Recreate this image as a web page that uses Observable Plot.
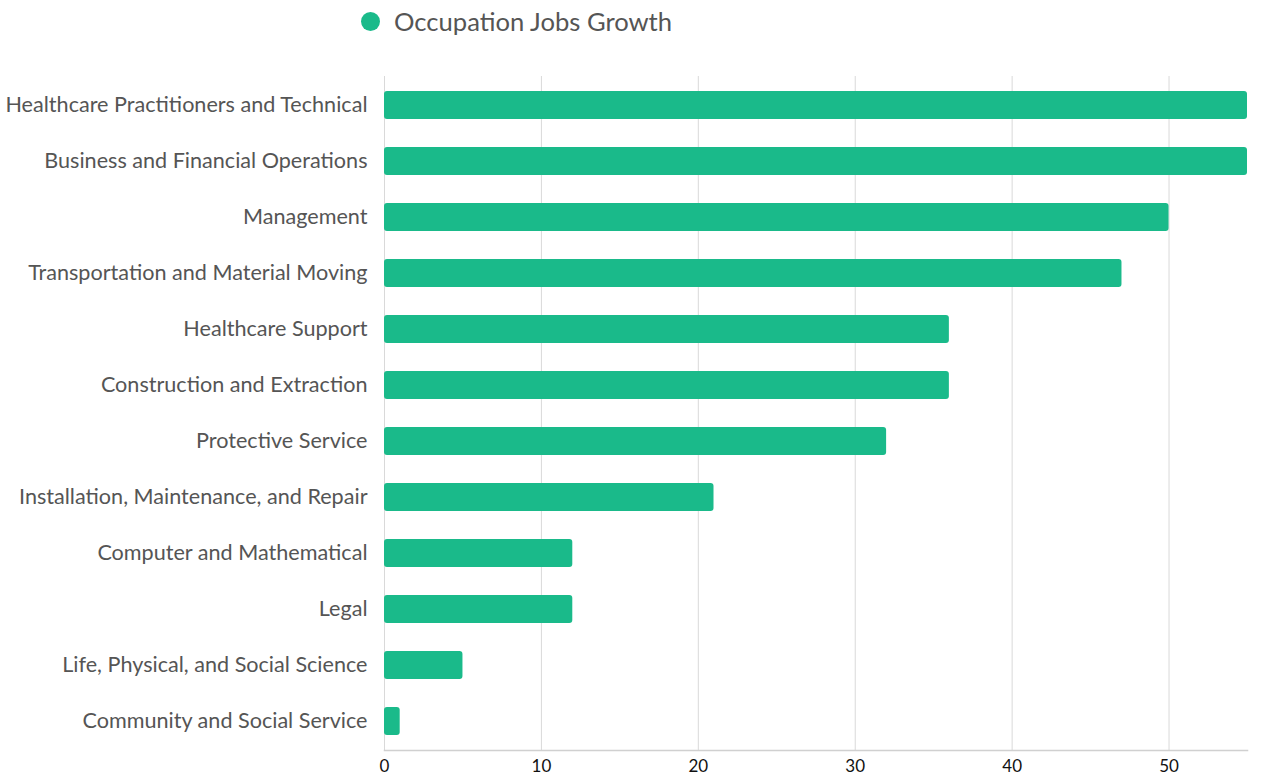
<!DOCTYPE html>
<html><head><meta charset="utf-8">
<script src="https://cdn.jsdelivr.net/npm/d3@7"></script>
<script src="https://cdn.jsdelivr.net/npm/@observablehq/plot@0.6"></script>
<style>
body{margin:0;background:#fff;font-family:Lato,sans-serif;}
#legend{height:50px;position:relative;}
#legend .dot{position:absolute;left:361px;top:12px;width:19px;height:19px;border-radius:50%;background:#1aba8a;}
#legend .txt{position:absolute;left:394px;top:4px;font-size:25.6px;color:#555;line-height:34px;}
</style></head>
<body>
<div id="legend"><span class="dot"></span><span class="txt">Occupation Jobs Growth</span></div>
<div id="chart"></div>
<script>
const categories = [
  "Healthcare Practitioners and Technical",
  "Business and Financial Operations",
  "Management",
  "Transportation and Material Moving",
  "Healthcare Support",
  "Construction and Extraction",
  "Protective Service",
  "Installation, Maintenance, and Repair",
  "Computer and Mathematical",
  "Legal",
  "Life, Physical, and Social Science",
  "Community and Social Service"
];
const values = [55, 55, 50, 47, 36, 36, 32, 21, 12, 12, 5, 1];
const xTicks = [0, 10, 20, 30, 40, 50];
const data = categories.map((c, i) => ({category: c, value: values[i]}));

const chart = Plot.plot({
  width: 1261,
  height: 726,
  marginTop: 26,
  marginBottom: 26,
  marginLeft: 384,
  marginRight: 14,
  style: {fontFamily: "Lato, sans-serif", background: "#fff"},
  x: {domain: [0, 55], ticks: xTicks},
  y: {domain: categories, paddingInner: 0.5, paddingOuter: 0.25},
  marks: [
    Plot.gridX(xTicks, {stroke: "#d9d9d9", strokeOpacity: 1}),
    Plot.frame({anchor: "bottom", stroke: "#d0d0d0", strokeWidth: 1.5}),
    Plot.barX(data, {x: "value", y: "category", fill: "#1aba8a", rx: 3}),
    Plot.axisX(xTicks, {tickSize: 0, tickPadding: 9, fontSize: 17, fill: "#111", label: null}),
    Plot.axisY({tickSize: 0, tickPadding: 17, fontSize: 21.6, fill: "#555", label: null})
  ]
});
document.getElementById("chart").appendChild(chart);
</script>
</body></html>
